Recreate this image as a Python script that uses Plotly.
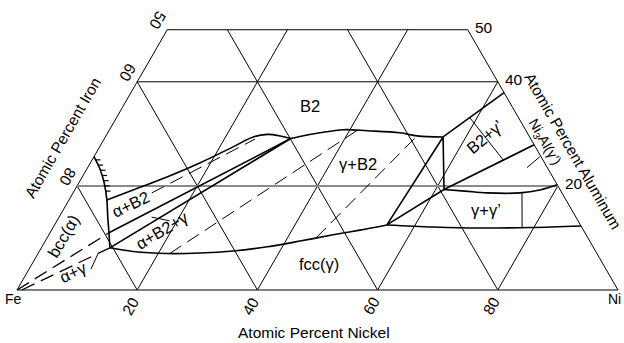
import numpy as np
import plotly.graph_objects as go

# ---------------- composition data (at.% Ni, at.% Al) ----------------
grid_ticks = [20, 40, 60, 80]      # grid spacing of the ternary net
al_limit = 50                      # section truncated at 50 at.% Al
ni_ticks = [20, 40, 60, 80]        # labels on the Fe-Ni side
fe_ticks = [50, 60, 80]            # iron labels on the Fe-Al side
al_ticks = [50, 40, 20]            # aluminium labels on the Ni-Al side

# bcc (alpha) solvus, hatched on the alpha side
alpha_ni = [0.0, 2.3, 4.2, 6.3, 8.1, 9.8, 11.4]
alpha_al = [25.6, 23.1, 20.6, 17.3, 14.0, 11.0, 8.1]
hatch_al = [25, 24, 23, 22, 21, 20, 19]

# B2 boundary facing alpha+B2
b2a_ni = [6.3, 9.7, 14.1, 18.2, 22.2, 24.6, 26.7, 29.0, 31.0]
b2a_al = [17.3, 19.2, 21.7, 24.4, 27.5, 29.4, 29.9, 29.6, 29.1]

# B2 boundary facing gamma+B2
b2g_ni = [31.0, 32.3, 35.3, 38.9, 43.0, 48.6, 51.8, 56.2]
b2g_al = [29.1, 29.5, 30.2, 30.8, 30.6, 30.2, 29.6, 29.4]

# gamma boundary facing gamma+B2
gb_ni = [11.4, 15.6, 21.5, 26.9, 32.2, 37.5, 42.4, 47.3, 51.3, 55.3]
gb_al = [8.1, 7.4, 7.0, 7.1, 7.5, 8.3, 9.4, 10.6, 11.5, 12.5]

# alpha + B2 + gamma tie triangle (alpha, gamma, B2 corners)
tri1_ni = [9.8, 11.4, 31.0]
tri1_al = [11.0, 8.1, 29.1]

# gamma + B2 + gamma' tie triangle (gamma, B2, gamma' corners)
tri2_ni = [55.3, 56.2, 61.4]
tri2_al = [12.5, 29.4, 19.3]

# B2 + gamma' field limits reaching the Ni-Al side
b2gp_ni = [56.2, 62.1]
b2gp_al = [29.4, 37.9]
gpb2_ni = [61.4, 72.1]
gpb2_al = [19.3, 27.9]

# gamma' boundary facing gamma+gamma'
gpg_ni = [61.4, 65.0, 68.9, 74.4, 77.4, 79.8]
gpg_al = [19.3, 19.0, 18.65, 18.65, 19.2, 20.2]

# gamma boundary facing gamma+gamma'
ggp_ni = [55.3, 63.2, 71.1, 79.4, 87.7]
ggp_al = [12.5, 12.1, 11.9, 12.0, 12.3]

# tie lines
tie_b2gp = ([58.8, 68.4], [33.1, 25.0])
tie_ggp = ([74.7, 78.1], [18.65, 11.9])
tie_ab2 = ([13.1, 25.1], [18.65, 29.0])
tie_gb2_1 = ([21.9, 41.3], [7.0, 30.7])
tie_gb2_2 = ([44.75, 51.8], [10.0, 29.7])

# alpha + gamma field (dashed limits to the Fe corner)
ag_alpha = ([0.0, 9.8], [0.0, 11.0])
ag_gamma = ([0.8, 11.4], [0.0, 8.1])

# label pointers
ptr_ag = ([10.3, 10.0], [4.0, 6.9])
ptr_ab2g = ([15.4, 18.7], [14.0, 13.3])
ptr_ni3al = ([73.1, 74.2], [23.5, 25.6])

# ---------------- helpers ----------------
H = np.sqrt(3) / 2


def tern(ni, al):
    ni = np.asarray(ni, float)
    al = np.asarray(al, float)
    return ni + al / 2, al * H


fig = go.Figure()


def add_paths(paths, width, dash="solid", color="black", shape="linear"):
    xs, ys = [], []
    for ni, al in paths:
        x, y = tern(ni, al)
        xs += list(x) + [None]
        ys += list(y) + [None]
    fig.add_trace(go.Scatter(
        x=xs, y=ys, mode="lines",
        line=dict(color=color, width=width, dash=dash, shape=shape),
        hoverinfo="skip", showlegend=False))


# ---------------- ternary net ----------------
frame = [
    ([0, 100], [0, 0]),
    ([0, 0], [0, al_limit]),
    ([0, 100 - al_limit], [al_limit, al_limit]),
    ([100, 100 - al_limit], [0, al_limit]),
]
grid = []
grid_gray = []
for v in grid_ticks:
    top = min(al_limit, 100 - v)
    grid.append(([v, v], [0, top]))                      # constant Ni
    grid.append(([100 - v, 100 - v - top], [0, top]))    # constant Fe
    if v < al_limit:
        seg = ([0, 100 - v], [v, v])                     # constant Al
        (grid_gray if v == 20 else grid).append(seg)

add_paths(frame + grid, 1.0)
add_paths(grid_gray, 2.0, color="#8a8a8a")

# ---------------- phase boundaries ----------------
add_paths([(alpha_ni, alpha_al), (b2a_ni, b2a_al), (b2g_ni, b2g_al),
           (gb_ni, gb_al), (gpg_ni, gpg_al), (ggp_ni, ggp_al)],
          1.6, shape="spline")
add_paths([(tri1_ni[0::2], tri1_al[0::2]), (tri1_ni[1:], tri1_al[1:]),
           (tri2_ni + tri2_ni[:1], tri2_al + tri2_al[:1]),
           (b2gp_ni, b2gp_al), (gpb2_ni, gpb2_al)], 1.6)

# hatching on the alpha side of the bcc solvus
order = np.argsort(alpha_al)
hatch_ni = np.interp(hatch_al, np.array(alpha_al)[order], np.array(alpha_ni)[order])
hx, hy = [], []
for n, a in zip(hatch_ni, hatch_al):
    x0, y0 = tern(n, a)
    hx += [float(x0), float(x0) + 0.85, None]
    hy += [float(y0), float(y0), None]
fig.add_trace(go.Scatter(x=hx, y=hy, mode="lines",
                         line=dict(color="black", width=1.2),
                         hoverinfo="skip", showlegend=False))

# tie lines and pointers
add_paths([tie_b2gp, tie_ggp, ptr_ag, ptr_ab2g, ptr_ni3al], 1.0)
add_paths([tie_ab2, tie_gb2_1, tie_gb2_2], 1.0, dash="14px,7px")
add_paths([ag_alpha, ag_gamma], 1.3, dash="14px,7px")

# ---------------- text ----------------
FONT = "Arial, Liberation Sans, sans-serif"
ann = []


def label(ni, al, text, angle=0, size=16.5, xanchor="center", dx=0.0, dy=0.0):
    x, y = tern(ni, al)
    ann.append(dict(x=float(x) + dx, y=float(y) + dy, text=text, textangle=angle,
                    showarrow=False, xanchor=xanchor, yanchor="middle",
                    font=dict(family=FONT, size=size, color="black")))


label(31.1, 35.4, "B2")
label(44.6, 24.2, "γ+B2")
label(10.7, 16.5, "α+B2", -26)
label(18.4, 11.5, "α+B2+γ", -31)
label(2.5, 10.4, "bcc(α)", -60)
label(7.6, 3.5, "α+γ", -25)
label(47.8, 4.9, "fcc(γ)")
label(70.35, 15.4, "γ+γ’")
label(63.1, 29.4, "B2+γ’", -40)
label(73.7, 28.3, "Ni<sub>3</sub>Al(γ’)", 60, size=14)

for v in ni_ticks:
    label(v, 0, str(v), -60, size=15.5, dx=-1.0, dy=-2.66)
for v in fe_ticks:
    label(0, 100 - v, str(v), 120, size=15.5, dx=-1.66, dy=1.5)
for v in al_ticks:
    label(100 - v, v, str(v), 0, size=15.5, xanchor="left", dx=0.8, dy=0.33)


def paper_text(x, y, text, angle=0, size=15.5, xanchor="center"):
    ann.append(dict(x=x, y=y, xref="paper", yref="paper", text=text,
                    textangle=angle, showarrow=False, xanchor=xanchor,
                    yanchor="middle",
                    font=dict(family=FONT, size=size, color="black")))


paper_text(0.503, 0.032, "Atomic Percent Nickel")
paper_text(0.101, 0.598, "Atomic Percent Iron", -60)
paper_text(0.917, 0.560, "Atomic Percent Aluminum", 60)
paper_text(0.0224, 0.128, "Fe", size=14)
paper_text(0.998, 0.128, "Ni", size=14, xanchor="right")

fig.update_layout(
    width=624, height=343,
    margin=dict(l=0, r=0, t=0, b=0),
    paper_bgcolor="white", plot_bgcolor="white",
    xaxis=dict(range=[-2.83, 101.0], visible=False, fixedrange=True),
    yaxis=dict(range=[-8.82, 48.25], visible=False, fixedrange=True),
    annotations=ann,
    showlegend=False,
)

fig.write_html("out.html", config={"displayModeBar": False})
